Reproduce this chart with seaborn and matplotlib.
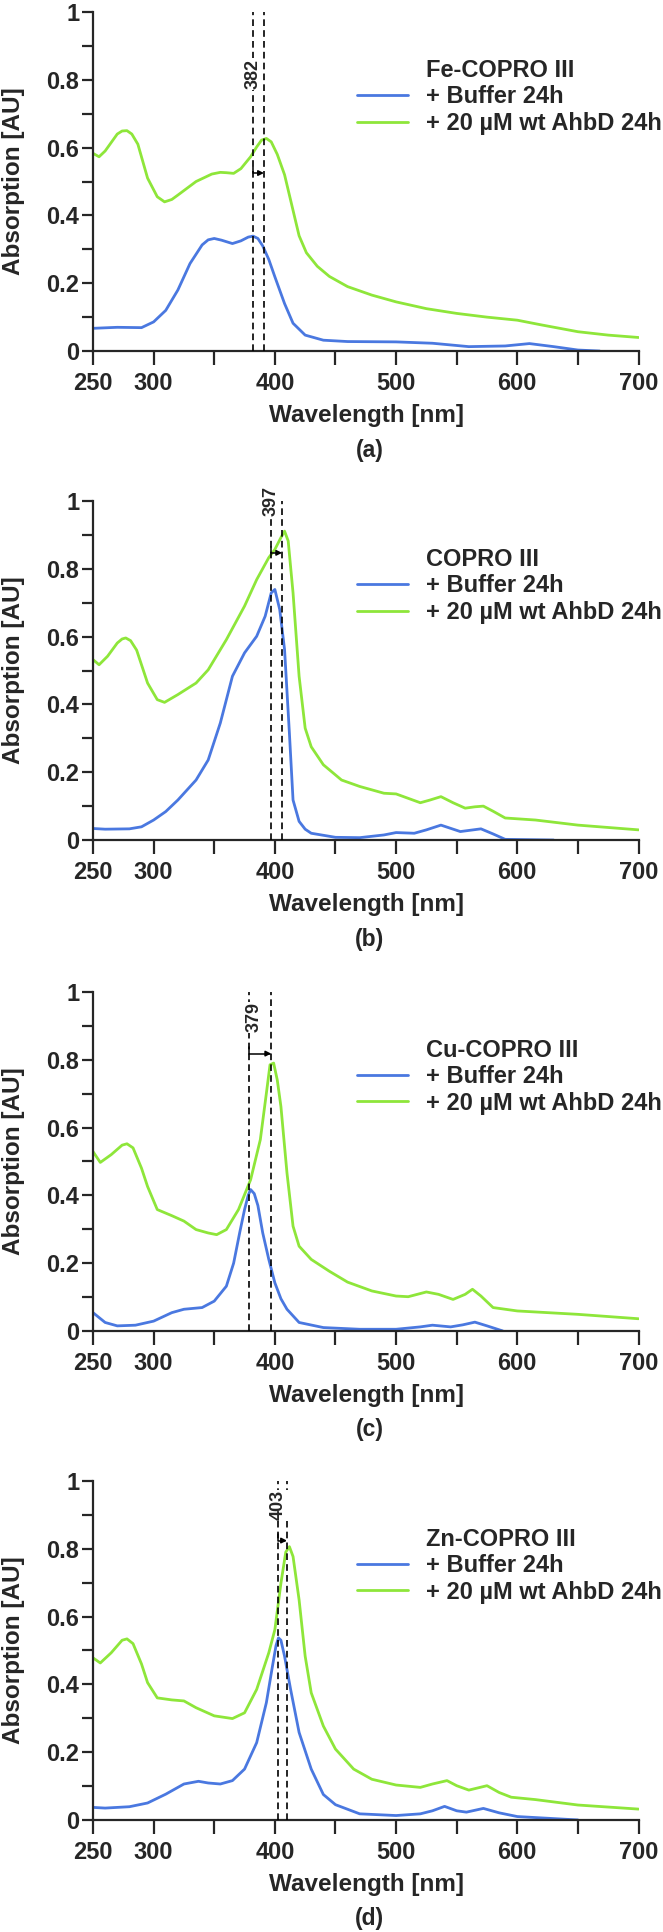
import numpy as np
import matplotlib
matplotlib.use("Agg")
import matplotlib.pyplot as plt
import seaborn as sns
from matplotlib.lines import Line2D

sns.set_style("ticks")
plt.rcParams['font.family'] = ['Liberation Sans', 'DejaVu Sans']
plt.rcParams['font.weight'] = 'bold'

BLUE = '#4a78e0'
GREEN = '#8ee63a'

# (a) Fe-COPRO III
fe_buf_wl = [250, 270, 290, 300, 310, 320, 330, 340, 345, 350, 356, 365, 372, 378, 382, 386, 390,
             395, 400, 408, 415, 425, 440, 460, 500, 530, 560, 590, 610, 630, 650, 668]
fe_buf_abs = [0.067, 0.070, 0.069, 0.086, 0.12, 0.18, 0.258, 0.313, 0.328, 0.332, 0.327, 0.317,
              0.325, 0.336, 0.339, 0.332, 0.31, 0.27, 0.219, 0.14, 0.082, 0.047, 0.032, 0.028,
              0.027, 0.023, 0.013, 0.015, 0.022, 0.013, 0.003, 0.0]
fe_ahb_wl = [250, 255, 260, 265, 270, 274, 278, 282, 287, 295, 303, 309, 315, 320, 335, 348, 355,
             360, 366, 372, 380, 385, 389, 393, 397, 402, 408, 414, 420, 426, 435, 445, 460, 480,
             500, 525, 550, 575, 600, 620, 650, 675, 700]
fe_ahb_abs = [0.583, 0.573, 0.59, 0.615, 0.64, 0.649, 0.65, 0.64, 0.61, 0.51, 0.455, 0.44, 0.447,
              0.46, 0.50, 0.522, 0.527, 0.526, 0.524, 0.538, 0.573, 0.602, 0.622, 0.627, 0.617,
              0.58, 0.52, 0.43, 0.34, 0.29, 0.25, 0.22, 0.19, 0.165, 0.145, 0.125, 0.111, 0.10,
              0.091, 0.077, 0.057, 0.047, 0.040]

# (b) COPRO III
co_buf_wl = [250, 260, 280, 290, 300, 310, 320, 335, 345, 355, 365, 375, 385, 392, 397, 400, 404,
             408, 412, 415, 420, 425, 430, 450, 470, 490, 500, 515, 525, 537, 553, 570, 580, 590,
             630]
co_buf_abs = [0.034, 0.032, 0.033, 0.039, 0.059, 0.084, 0.118, 0.177, 0.236, 0.345, 0.483, 0.552,
              0.601, 0.66, 0.729, 0.739, 0.68, 0.562, 0.315, 0.118, 0.055, 0.032, 0.02, 0.008,
              0.007, 0.015, 0.022, 0.02, 0.03, 0.044, 0.025, 0.033, 0.018, 0.002, 0.0]
co_ahb_wl = [250, 255, 262, 270, 274, 277, 281, 286, 295, 303, 309, 320, 335, 345, 360, 375, 385,
             395, 400, 405, 408, 411, 415, 420, 425, 430, 440, 455, 470, 490, 500, 510, 520, 528,
             537, 547, 557, 565, 572, 580, 590, 615, 650, 700]
co_ahb_abs = [0.532, 0.517, 0.542, 0.581, 0.593, 0.596, 0.588, 0.56, 0.463, 0.414, 0.406, 0.429,
              0.463, 0.502, 0.591, 0.69, 0.768, 0.833, 0.857, 0.892, 0.911, 0.882, 0.729, 0.483,
              0.33, 0.275, 0.222, 0.177, 0.158, 0.138, 0.136, 0.123, 0.110, 0.118, 0.128, 0.110,
              0.094, 0.098, 0.100, 0.085, 0.065, 0.059, 0.044, 0.030]

# (c) Cu-COPRO III
cu_buf_wl = [250, 260, 270, 285, 300, 315, 325, 340, 350, 360, 366, 371, 375, 378, 380, 383, 386,
             390, 395, 400, 405, 410, 420, 440, 470, 500, 520, 530, 545, 555, 565, 575, 588]
cu_buf_abs = [0.054, 0.025, 0.015, 0.017, 0.029, 0.054, 0.064, 0.069, 0.088, 0.132, 0.2, 0.29,
              0.358, 0.40, 0.417, 0.405, 0.37, 0.289, 0.211, 0.142, 0.095, 0.064, 0.025, 0.01,
              0.005, 0.005, 0.012, 0.017, 0.012, 0.018, 0.026, 0.015, 0.0]
cu_ahb_wl = [250, 256, 265, 274, 278, 283, 290, 295, 303, 315, 325, 335, 345, 352, 360, 370, 380,
             388, 393, 396, 399, 402, 405, 410, 415, 420, 430, 445, 460, 480, 500, 510, 525, 535,
             547, 557, 563, 570, 580, 600, 650, 700]
cu_ahb_abs = [0.529, 0.497, 0.52, 0.548, 0.552, 0.54, 0.48, 0.426, 0.358, 0.34, 0.324, 0.299,
              0.289, 0.284, 0.299, 0.358, 0.446, 0.564, 0.701, 0.785, 0.79, 0.74, 0.662, 0.466,
              0.309, 0.25, 0.211, 0.176, 0.144, 0.118, 0.103, 0.101, 0.115, 0.108, 0.093, 0.108,
              0.123, 0.103, 0.069, 0.059, 0.049, 0.036]

# (d) Zn-COPRO III
zn_buf_wl = [250, 260, 280, 295, 310, 325, 337, 345, 355, 365, 375, 385, 393, 398, 401, 403, 405,
             408, 413, 420, 430, 440, 450, 470, 500, 520, 530, 540, 550, 558, 572, 585, 600, 625,
             650]
zn_buf_abs = [0.037, 0.035, 0.039, 0.05, 0.076, 0.106, 0.114, 0.109, 0.106, 0.116, 0.15, 0.228,
              0.346, 0.453, 0.515, 0.537, 0.53, 0.483, 0.385, 0.258, 0.15, 0.075, 0.045, 0.018,
              0.013, 0.018, 0.027, 0.04, 0.027, 0.023, 0.034, 0.021, 0.01, 0.005, 0.0]
zn_ahb_wl = [250, 256, 265, 274, 278, 283, 290, 295, 303, 315, 325, 335, 350, 365, 375, 385, 395,
             400, 405, 409, 412, 415, 420, 425, 430, 440, 450, 465, 480, 500, 520, 530, 542, 550,
             560, 575, 585, 595, 615, 650, 700]
zn_ahb_abs = [0.478, 0.463, 0.493, 0.53, 0.534, 0.52, 0.46, 0.405, 0.36, 0.354, 0.351, 0.331,
              0.307, 0.299, 0.316, 0.385, 0.493, 0.561, 0.698, 0.79, 0.806, 0.777, 0.649, 0.483,
              0.375, 0.277, 0.209, 0.15, 0.12, 0.103, 0.096, 0.106, 0.116, 0.101, 0.088, 0.101,
              0.081, 0.067, 0.06, 0.044, 0.032]

titles = ['Fe-COPRO III', 'COPRO III', 'Cu-COPRO III', 'Zn-COPRO III']
panel_tags = ['(a)', '(b)', '(c)', '(d)']
peak_lines = [(382, 391), (397, 406), (379, 397), (403, 410)]
peak_labels = ['382', '397', '379', '403']
buffer_label = '+ Buffer 24h'
ahbd_label = '+ 20 µM wt AhbD 24h'

xticks = [250, 300, 350, 400, 450, 500, 550, 600, 650, 700]
xticklabels = ['250', '300', '', '400', '', '500', '', '600', '', '700']
yticks = [0, 0.2, 0.4, 0.6, 0.8, 1.0]
yticklabels = ['0', '0.2', '0.4', '0.6', '0.8', '1']

series = [
    (fe_buf_wl, fe_buf_abs, fe_ahb_wl, fe_ahb_abs),
    (co_buf_wl, co_buf_abs, co_ahb_wl, co_ahb_abs),
    (cu_buf_wl, cu_buf_abs, cu_ahb_wl, cu_ahb_abs),
    (zn_buf_wl, zn_buf_abs, zn_ahb_wl, zn_ahb_abs),
]

# layout (figure fractions) and annotation heights per panel
bottoms = [0.8183, 0.5652, 0.3111, 0.0580]
text_y = [0.817, 0.999, 0.925, 0.928]
arrow_y = [0.525, 0.847, 0.818, 0.824]

fig = plt.figure(figsize=(6.63, 19.32), dpi=100)

for i in range(4):
    ax = fig.add_axes([0.1403, bottoms[i], 0.8228, 0.1755])
    bw, ba, gw, ga = series[i]
    sns.lineplot(x=bw, y=ba, ax=ax, color=BLUE, linewidth=2.0, sort=False, estimator=None)
    sns.lineplot(x=gw, y=ga, ax=ax, color=GREEN, linewidth=2.0, sort=False, estimator=None)

    x1, x2 = peak_lines[i]
    for xv in (x1, x2):
        ax.axvline(xv, ymin=0, ymax=1, color='black', lw=1.2, ls=(0, (4, 2.5)), zorder=3)
    tx = x1 + 4 if i == 2 else x1
    ax.text(tx, text_y[i], peak_labels[i], rotation=90, ha='center', va='center',
            fontsize=13, fontweight='bold', zorder=4, clip_on=False,
            bbox=dict(fc='white', ec='none', pad=0.4))
    ax.annotate('', xy=(x2, arrow_y[i]), xytext=(x1, arrow_y[i] + 0.018),
                arrowprops=dict(arrowstyle='-|>', color='black', lw=1.1, mutation_scale=8,
                                shrinkA=0, shrinkB=0,
                                connectionstyle='angle,angleA=-90,angleB=180,rad=0'),
                zorder=4)

    ax.set_xlim(250, 700)
    ax.set_ylim(0, 1)
    ax.set_xticks(xticks)
    ax.set_xticklabels(xticklabels, fontsize=17, fontweight='bold')
    ax.set_yticks(yticks)
    ax.set_yticklabels(yticklabels, fontsize=17, fontweight='bold')
    ax.set_yticks(np.arange(0.1, 1.0, 0.2), minor=True)
    ax.tick_params(axis='y', which='both', length=8, width=1.6, pad=2, direction='out')
    ax.tick_params(axis='x', which='both', length=10, width=1.6, pad=5, direction='out')
    for s in ['top', 'right']:
        ax.spines[s].set_visible(False)
    for s in ['left', 'bottom']:
        ax.spines[s].set_linewidth(1.6)

    ax.set_xlabel('Wavelength [nm]', fontsize=17.5, fontweight='bold')
    ax.set_ylabel('Absorption [AU]', fontsize=17.5, fontweight='bold')
    ax.xaxis.set_label_coords(0.502, -0.157)
    ax.yaxis.set_label_coords(-0.125, 0.5)
    ax.text(0.507, -0.292, panel_tags[i], transform=ax.transAxes, ha='center', va='center',
            fontsize=16.5, fontweight='bold')

    handles = [Line2D([], [], color='none'),
               Line2D([], [], color=BLUE, lw=2.0),
               Line2D([], [], color=GREEN, lw=2.0)]
    ax.legend(handles, [titles[i], buffer_label, ahbd_label], loc='upper left',
              bbox_to_anchor=(0.484, 0.862), frameon=False, borderpad=0, borderaxespad=0,
              handlelength=2.15, handletextpad=0.75, labelspacing=0.15,
              prop={'size': 17, 'weight': 'bold'})

fig.savefig('out.png', dpi=100)
